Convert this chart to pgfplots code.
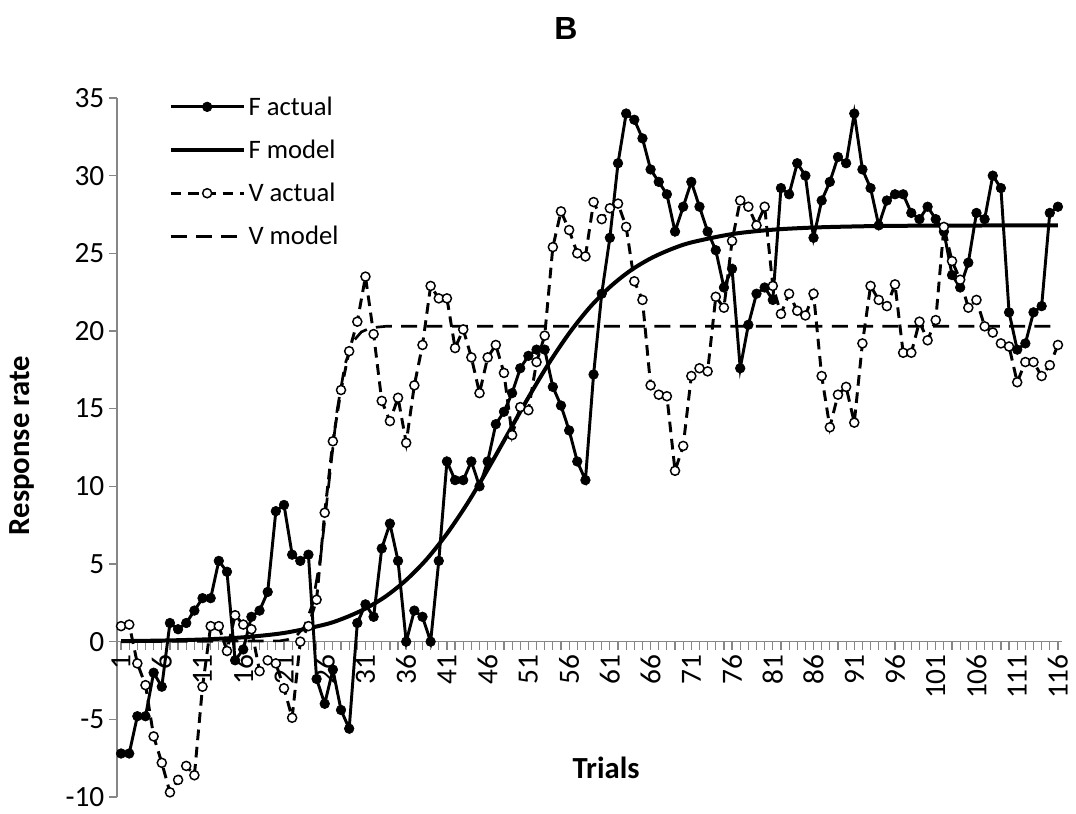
\documentclass[border=0pt]{standalone}
\usepackage{fontspec}
\setmainfont{Carlito}
\newfontfamily\arialfont{Liberation Sans}
\usepackage{pgfplots}
\pgfplotsset{compat=1.18}
\definecolor{axisgray}{HTML}{868686}
\begin{document}
\begin{tikzpicture}
\begin{axis}[
  x=6.11pt, y=11.65pt,
  xmin=0.5, xmax=116.5, ymin=-10, ymax=35,
  axis x line=middle, axis y line=left,
  axis line style={axisgray, line width=1pt, -},
  x axis line style={-}, y axis line style={-},
  hide obscured x ticks=false, hide obscured y ticks=false,
  xtick={1,6,...,116},
  minor xtick={1,...,116},
  ytick={-10,-5,...,35},
  tick style={axisgray, line width=0.9pt},
  major tick length=6pt, minor tick length=6pt,
  tick align=outside,
  xticklabel style={rotate=90, anchor=east, font=\fontsize{22}{22}\selectfont},
  yticklabel style={font=\fontsize{22}{22}\selectfont},
  /pgf/number format/assume math mode=true,
  clip=false,
  legend style={at={(axis description cs:0.05,1.01)}, anchor=north west, draw=none, fill=none,
    font=\fontsize{20}{22}\selectfont, row sep=13pt,
    /tikz/every even column/.append style={column sep=3pt}},
  legend cell align=left,
  legend image code/.code={\draw[mark repeat=2,mark phase=2,#1] plot coordinates {(0pt,0pt) (27.5pt,0pt) (55pt,0pt)};},
]
% F actual
\addplot[black, line width=2.2pt, mark=*, mark size=3.6pt, mark options={solid, fill=black, draw=black, line width=0.5pt}] coordinates {
(1,-7.2) (2,-7.2) (3,-4.8) (4,-4.8) (5,-2.0) (6,-2.9) (7,1.2) (8,0.8) (9,1.2) (10,2.0)
(11,2.8) (12,2.8) (13,5.2) (14,4.5) (15,-1.2) (16,-0.5) (17,1.6) (18,2.0) (19,3.2) (20,8.4)
(21,8.8) (22,5.6) (23,5.2) (24,5.6) (25,-2.4) (26,-4.0) (27,-1.8) (28,-4.4) (29,-5.6) (30,1.2)
(31,2.4) (32,1.6) (33,6.0) (34,7.6) (35,5.2) (36,0.0) (37,2.0) (38,1.6) (39,0.0) (40,5.2)
(41,11.6) (42,10.4) (43,10.4) (44,11.6) (45,10.0) (46,11.6) (47,14.0) (48,14.8) (49,16.0) (50,17.6)
(51,18.4) (52,18.8) (53,18.8) (54,16.4) (55,15.2) (56,13.6) (57,11.6) (58,10.4) (59,17.2) (60,22.4)
(61,26.0) (62,30.8) (63,34.0) (64,33.6) (65,32.4) (66,30.4) (67,29.6) (68,28.8) (69,26.4) (70,28.0)
(71,29.6) (72,28.0) (73,26.4) (74,25.2) (75,22.8) (76,24.0) (77,17.6) (78,20.4) (79,22.4) (80,22.8)
(81,22.0) (82,29.2) (83,28.8) (84,30.8) (85,30.0) (86,26.0) (87,28.4) (88,29.6) (89,31.2) (90,30.8)
(91,34.0) (92,30.4) (93,29.2) (94,26.8) (95,28.4) (96,28.8) (97,28.8) (98,27.6) (99,27.2) (100,28.0)
(101,27.2) (102,26.4) (103,23.6) (104,22.8) (105,24.4) (106,27.6) (107,27.2) (108,30.0) (109,29.2) (110,21.2)
(111,18.8) (112,19.2) (113,21.2) (114,21.6) (115,27.6) (116,28.0)
};
\addlegendentry{F actual}
% F model
\addplot[black, line width=3pt, smooth] coordinates {
(1,0.035) (6,0.07) (11,0.14) (16,0.28) (21,0.56) (26,1.10) (28.5,1.54) (31,2.13) (33.5,2.92)
(36,3.97) (38.5,5.30) (41,6.95) (43.5,8.89) (46,11.08) (48.5,13.40) (51,15.72) (53.5,17.91)
(56,19.85) (58.5,21.50) (61,22.83) (63.5,23.88) (66,24.67) (68.5,25.26) (71,25.70) (76,26.24)
(81,26.52) (86,26.66) (91,26.73) (96,26.77) (106,26.79) (116,26.80)
};
\addlegendentry{F model}
% V actual
\addplot[black, line width=2.2pt, dash pattern=on 8pt off 5pt, mark=*, mark size=3.4pt, mark options={solid, fill=white, draw=black, line width=1.1pt}] coordinates {
(1,1.0) (2,1.1) (3,-1.4) (4,-2.8) (5,-6.1) (6,-7.8) (7,-9.7) (8,-8.9) (9,-8.0) (10,-8.6)
(11,-2.9) (12,1.0) (13,1.0) (14,-0.6) (15,1.7) (16,1.1) (17,0.8) (18,-1.9) (19,-1.2) (20,-1.4)
(21,-3.0) (22,-4.9) (23,0.0) (24,1.0) (25,2.7) (26,8.3) (27,12.9) (28,16.2) (29,18.7) (30,20.6)
(31,23.5) (32,19.8) (33,15.5) (34,14.2) (35,15.7) (36,12.8) (37,16.5) (38,19.1) (39,22.9) (40,22.1)
(41,22.1) (42,18.9) (43,20.1) (44,18.3) (45,16.0) (46,18.3) (47,19.1) (48,17.3) (49,13.3) (50,15.1)
(51,14.9) (52,18.0) (53,19.7) (54,25.4) (55,27.7) (56,26.5) (57,25.0) (58,24.8) (59,28.3) (60,27.2)
(61,27.9) (62,28.2) (63,26.7) (64,23.2) (65,22.0) (66,16.5) (67,15.9) (68,15.8) (69,11.0) (70,12.6)
(71,17.1) (72,17.6) (73,17.4) (74,22.2) (75,21.5) (76,25.8) (77,28.4) (78,28.0) (79,26.8) (80,28.0)
(81,22.9) (82,21.1) (83,22.4) (84,21.3) (85,21.0) (86,22.4) (87,17.1) (88,13.8) (89,15.9) (90,16.4)
(91,14.1) (92,19.2) (93,22.9) (94,22.0) (95,21.6) (96,23.0) (97,18.6) (98,18.6) (99,20.6) (100,19.4)
(101,20.7) (102,26.7) (103,24.5) (104,23.3) (105,21.5) (106,22.0) (107,20.3) (108,19.9) (109,19.2) (110,19.0)
(111,16.7) (112,18.0) (113,18.0) (114,17.1) (115,17.8) (116,19.1)
};
\addlegendentry{V actual}
% V model
\addplot[black, line width=2pt, dash pattern=on 12pt off 7pt] coordinates {
(1,0) (20.5,0.05) (21.5,0.14) (22.5,0.36) (23.5,0.96) (24.5,2.42) (25.5,5.46) (26.5,10.15) (27.5,14.84)
(28.5,17.88) (29.5,19.34) (30.5,19.94) (31.5,20.17) (32.5,20.25) (33.5,20.3) (116,20.3)
};
\addlegendentry{V model}
\node[font=\arialfont\bfseries\fontsize{24}{26}\selectfont] at (rel axis cs:0.475,1.100) {B};
\node[font=\bfseries\fontsize{23}{25}\selectfont] at (rel axis cs:0.5175,0.0415) {Trials};
\node[font=\bfseries\fontsize{23}{25}\selectfont, rotate=90] at (rel axis cs:-0.1005,0.503) {Response rate};
\path (rel axis cs:-0.1238,-0.0229) rectangle (rel axis cs:1.0148,1.1402);
\end{axis}
\end{tikzpicture}
\end{document}
